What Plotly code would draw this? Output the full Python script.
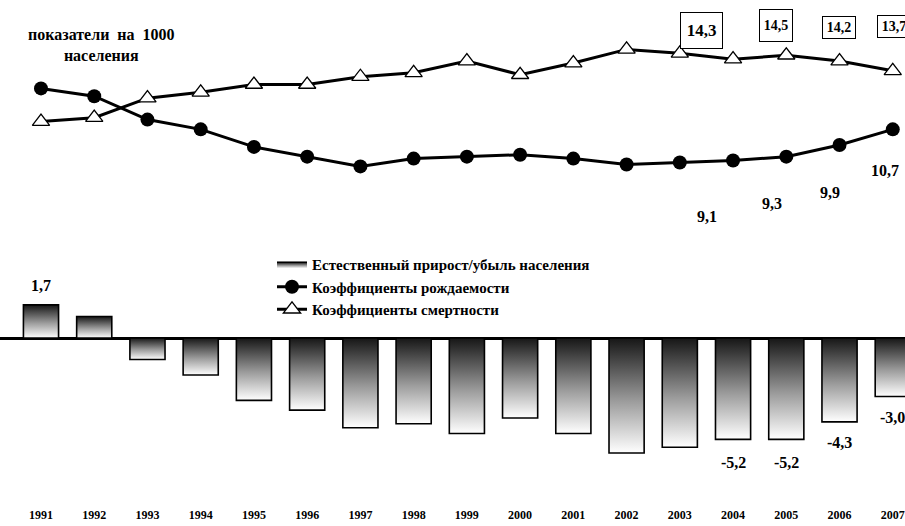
import plotly.graph_objects as go

# ---- data ----
years = list(range(1991, 2008))
year_labels = [str(y) for y in years]
natural = [1.7, 1.1, -1.1, -1.9, -3.2, -3.7, -4.6, -4.4, -4.9, -4.1, -4.9, -5.9, -5.6, -5.2, -5.2, -4.3, -3.0]
birth = [12.8, 12.4, 11.2, 10.7, 9.8, 9.3, 8.8, 9.2, 9.3, 9.4, 9.2, 8.9, 9.0, 9.1, 9.3, 9.9, 10.7]
death = [11.1, 11.3, 12.3, 12.6, 13.0, 13.0, 13.4, 13.6, 14.2, 13.5, 14.1, 14.8, 14.6, 14.3, 14.5, 14.2, 13.7]

name_nat = "Естественный прирост/убыль населения"
name_birth = "Коэффициенты рождаемости"
name_death = "Коэффициенты смертности"
title_text = "показатели \u00a0на \u00a01000<br>населения"

# which points get value labels
nat_labeled = [1991, 2004, 2005, 2006, 2007]
birth_labeled = [2004, 2005, 2006, 2007]
death_labeled = [2004, 2005, 2006, 2007]

FONT = "Liberation Serif"
BAR_HALF = 0.33


def fmt(v):
    return f"{v:.1f}".replace(".", ",")


fig = go.Figure()

grad = dict(type="vertical",
            colorscale=[[0, "#ffffff"], [0.45, "#9c9c9c"], [1, "#161616"]])

for i, (yr, v) in enumerate(zip(years, natural)):
    xs = [yr - BAR_HALF, yr + BAR_HALF, yr + BAR_HALF, yr - BAR_HALF, yr - BAR_HALF]
    ys = [0, 0, v, v, 0]
    fig.add_trace(go.Scatter(
        x=xs, y=ys, mode="lines", fill="toself", fillgradient=grad,
        line=dict(color="black", width=1.6),
        name=name_nat, legendgroup="nat", showlegend=(i == 0), legendrank=1,
        hoverinfo="skip"))

fig.add_trace(go.Scatter(
    x=years, y=birth, mode="lines+markers", name=name_birth, legendrank=2,
    line=dict(color="black", width=3),
    marker=dict(symbol="circle", size=14, color="black")))

fig.add_trace(go.Scatter(
    x=years, y=death, mode="lines+markers", name=name_death, legendrank=3,
    line=dict(color="black", width=3),
    marker=dict(symbol="triangle-up", size=15, color="white",
                line=dict(color="black", width=1.3))))

ann = []
# natural increase labels
nat_shift = {1991: 19, 2004: -23, 2005: -23, 2006: -21, 2007: -21}
for yr in nat_labeled:
    v = natural[years.index(yr)]
    ann.append(dict(x=yr, y=v, text=f"<b>{fmt(v)}</b>", showarrow=False,
                    yshift=nat_shift[yr], font=dict(family=FONT, size=16, color="black")))

# birth labels
birth_off = {2004: (-26, -56), 2005: (-14, -47), 2006: (-10, -48), 2007: (-8, -41)}
for yr in birth_labeled:
    v = birth[years.index(yr)]
    dx, dy = birth_off[yr]
    ann.append(dict(x=yr, y=v, text=f"<b>{fmt(v)}</b>", showarrow=False,
                    xshift=dx, yshift=dy, font=dict(family=FONT, size=16, color="black")))

# death labels in boxes
death_box = {2004: (-32, 29, 41, 35, 17), 2005: (-10, 30, 32, 31, 14),
             2006: (-1, 34, 32, 21, 14), 2007: (1, 44, 32, 21, 14)}
for yr in death_labeled:
    v = death[years.index(yr)]
    dx, dy, w, h, fs = death_box[yr]
    ann.append(dict(x=yr, y=v, text=f"<b>{fmt(v)}</b>", showarrow=False,
                    xshift=dx, yshift=dy, width=w, height=h, borderpad=0,
                    bordercolor="black", borderwidth=1, bgcolor="white",
                    font=dict(family=FONT, size=fs, color="black")))

ann.append(dict(xref="paper", yref="paper", x=101 / 905, y=1 - 45 / 506,
                text=f"<b>{title_text}</b>", showarrow=False,
                xanchor="center", yanchor="middle",
                font=dict(family=FONT, size=16, color="black")))

fig.update_layout(
    width=905, height=526,
    margin=dict(l=0, r=0, t=0, b=20),
    paper_bgcolor="white", plot_bgcolor="white",
    annotations=ann,
    showlegend=True,
    legend=dict(x=272 / 905, y=1 - 248 / 506, xanchor="left", yanchor="top",
                bgcolor="rgba(0,0,0,0)", tracegroupgap=0,
                font=dict(family=FONT, size=15, color="black", weight="bold")),
    xaxis=dict(range=[1990.23, 2007.23], tickmode="array", tickvals=years,
               ticktext=[f"<b>{t}</b>" for t in year_labels],
               showgrid=False, zeroline=False, showline=False, ticks="",
               tickfont=dict(family=FONT, size=12, color="black")),
    yaxis=dict(range=[-8.615, 17.333], showgrid=False, showticklabels=False,
               zeroline=True, zerolinecolor="black", zerolinewidth=3,
               showline=False, ticks=""),
)

fig.write_html("out.html")
